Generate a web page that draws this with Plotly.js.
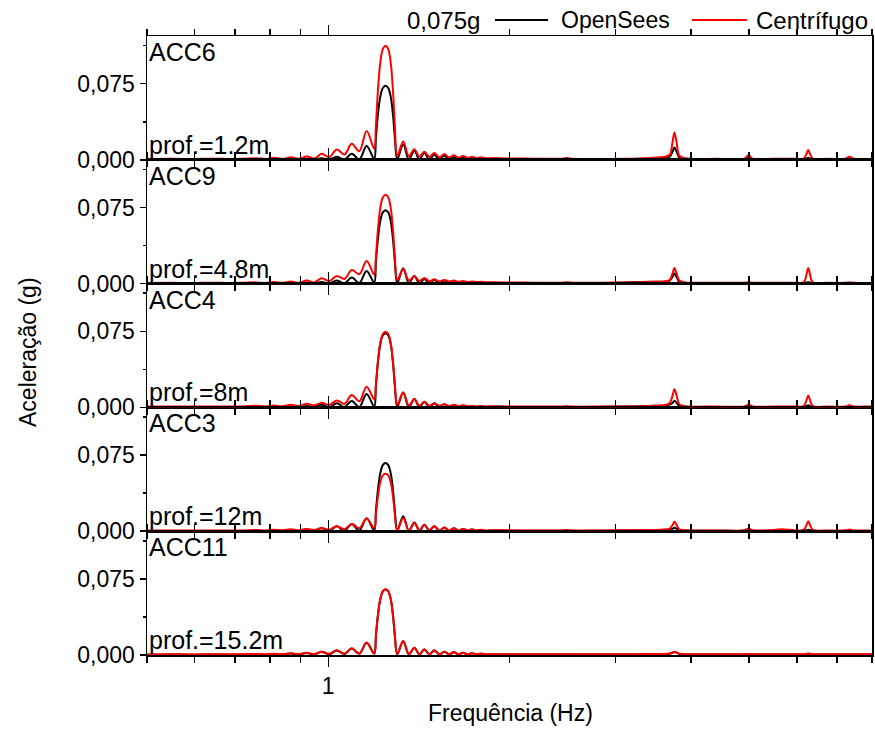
<!DOCTYPE html>
<html><head><meta charset="utf-8">
<script src="https://cdn.plot.ly/plotly-3.0.1.min.js"></script>
<style>html,body{margin:0;padding:0;background:#fff}#chart{width:875px;height:730px}</style>
</head><body><div id="chart"></div>
<script>
// Frequency (Hz), shared by all series
const freq = [0.50, 0.55, 0.60, 0.64, 0.68, 0.72, 0.76, 0.786, 0.812,
 0.840, 0.866, 0.893, 0.921, 0.948, 0.975, 1.004, 1.033, 1.064, 1.094, 1.126, 1.158, 1.192,
 1.200, 1.209, 1.220, 1.232, 1.245, 1.258, 1.270, 1.281, 1.290, 1.302,
 1.332, 1.361, 1.390, 1.417, 1.444, 1.472, 1.500, 1.530, 1.559, 1.588, 1.617, 1.646, 1.675, 1.704, 1.733, 1.763, 1.793, 1.823,
 1.88, 1.97, 2.12, 2.32, 2.44, 2.49, 2.54, 2.82, 3.12, 3.42,
 3.62, 3.69, 3.73, 3.758, 3.79, 3.83, 3.92,
 4.40, 4.91, 4.99, 5.07, 5.50, 5.67, 5.95, 6.16, 6.23, 6.27, 6.31, 6.38, 6.75, 7.22, 7.34, 7.46, 7.75, 8.00];

// ACC6 (prof.=1.2m)
const acc6_opensees = [0.0002, 0.0002, 0.0002, 0.0002, 0.0002, 0.0002, 0.0003, 0.0002, 0.0004,
 0.0002, 0.0005, 0.0002, 0.0008, 0.0002, 0.0016, 0.0003, 0.0030, 0.0004, 0.0059, 0.0005, 0.0135, 0.0010,
 0.0220, 0.0440, 0.0620, 0.0708, 0.0730, 0.0708, 0.0620, 0.0440, 0.0220, 0.0005,
 0.0150, 0.0004, 0.0090, 0.0003, 0.0066, 0.0003, 0.0050, 0.0003, 0.0040, 0.0003, 0.0030, 0.0003, 0.0024, 0.0003, 0.0018, 0.0003, 0.0014, 0.0003,
 0.0008, 0.0005, 0.0004, 0.0004, 0.0004, 0.0015, 0.0004, 0.0004, 0.0006, 0.0012,
 0.0020, 0.0030, 0.0080, 0.0120, 0.0080, 0.0020, 0.0006,
 0.0004, 0.0004, 0.0020, 0.0004, 0.0003, 0.0003, 0.0003, 0.0004, 0.0012, 0.0020, 0.0012, 0.0004, 0.0003, 0.0003, 0.0006, 0.0003, 0.0003, 0.0003];
const acc6_centrifugo = [0.0008, 0.0010, 0.0008, 0.0011, 0.0009, 0.0010, 0.0016, 0.0008, 0.0020,
 0.0009, 0.0024, 0.0010, 0.0033, 0.0013, 0.0059, 0.0026, 0.0102, 0.0053, 0.0158, 0.0085, 0.0283, 0.0110,
 0.0340, 0.0675, 0.0955, 0.1090, 0.1125, 0.1090, 0.0955, 0.0675, 0.0340, 0.0040,
 0.0180, 0.0035, 0.0105, 0.0030, 0.0079, 0.0028, 0.0066, 0.0025, 0.0056, 0.0022, 0.0045, 0.0020, 0.0038, 0.0018, 0.0030, 0.0016, 0.0025, 0.0015,
 0.0018, 0.0014, 0.0012, 0.0010, 0.0010, 0.0015, 0.0010, 0.0009, 0.0010, 0.0018,
 0.0030, 0.0050, 0.0170, 0.0270, 0.0170, 0.0040, 0.0015,
 0.0010, 0.0012, 0.0046, 0.0012, 0.0010, 0.0010, 0.0010, 0.0012, 0.0060, 0.0096, 0.0060, 0.0012, 0.0010, 0.0010, 0.0030, 0.0010, 0.0008, 0.0008];

// ACC9 (prof.=4.8m)
const acc9_opensees = [0.0002, 0.0002, 0.0002, 0.0002, 0.0002, 0.0002, 0.0003, 0.0002, 0.0004,
 0.0002, 0.0005, 0.0002, 0.0009, 0.0002, 0.0016, 0.0003, 0.0030, 0.0004, 0.0059, 0.0005, 0.0125, 0.0010,
 0.0217, 0.0434, 0.0615, 0.0702, 0.0724, 0.0702, 0.0615, 0.0434, 0.0217, 0.0005,
 0.0151, 0.0004, 0.0076, 0.0003, 0.0046, 0.0003, 0.0036, 0.0003, 0.0030, 0.0003, 0.0024, 0.0003, 0.0019, 0.0003, 0.0015, 0.0003, 0.0012, 0.0003,
 0.0008, 0.0005, 0.0004, 0.0004, 0.0004, 0.0010, 0.0004, 0.0006, 0.0012, 0.0018,
 0.0020, 0.0030, 0.0065, 0.0099, 0.0065, 0.0015, 0.0006,
 0.0004, 0.0004, 0.0008, 0.0004, 0.0003, 0.0003, 0.0003, 0.0004, 0.0010, 0.0015, 0.0010, 0.0004, 0.0003, 0.0003, 0.0005, 0.0003, 0.0003, 0.0003];
const acc9_centrifugo = [0.0006, 0.0008, 0.0006, 0.0009, 0.0007, 0.0008, 0.0012, 0.0006, 0.0016,
 0.0008, 0.0020, 0.0009, 0.0030, 0.0012, 0.0053, 0.0026, 0.0076, 0.0046, 0.0135, 0.0092, 0.0223, 0.0090,
 0.0263, 0.0525, 0.0744, 0.0849, 0.0875, 0.0849, 0.0744, 0.0525, 0.0263, 0.0035,
 0.0145, 0.0030, 0.0072, 0.0026, 0.0055, 0.0024, 0.0042, 0.0022, 0.0036, 0.0020, 0.0030, 0.0018, 0.0025, 0.0016, 0.0021, 0.0015, 0.0018, 0.0014,
 0.0014, 0.0012, 0.0010, 0.0009, 0.0009, 0.0011, 0.0009, 0.0008, 0.0010, 0.0016,
 0.0022, 0.0035, 0.0098, 0.0154, 0.0098, 0.0030, 0.0012,
 0.0009, 0.0009, 0.0012, 0.0009, 0.0008, 0.0008, 0.0009, 0.0012, 0.0095, 0.0154, 0.0095, 0.0012, 0.0008, 0.0008, 0.0012, 0.0008, 0.0007, 0.0007];

// ACC4 (prof.=8m)
const acc4_opensees = [0.0002, 0.0002, 0.0002, 0.0002, 0.0002, 0.0002, 0.0003, 0.0002, 0.0004,
 0.0002, 0.0006, 0.0002, 0.0015, 0.0003, 0.0025, 0.0003, 0.0040, 0.0004, 0.0063, 0.0005, 0.0132, 0.0010,
 0.0219, 0.0438, 0.0620, 0.0708, 0.0730, 0.0708, 0.0620, 0.0438, 0.0219, 0.0005,
 0.0148, 0.0004, 0.0082, 0.0003, 0.0056, 0.0003, 0.0040, 0.0003, 0.0030, 0.0003, 0.0024, 0.0003, 0.0019, 0.0003, 0.0014, 0.0003, 0.0011, 0.0003,
 0.0007, 0.0005, 0.0004, 0.0004, 0.0004, 0.0010, 0.0004, 0.0005, 0.0008, 0.0014,
 0.0020, 0.0028, 0.0044, 0.0066, 0.0044, 0.0015, 0.0006,
 0.0004, 0.0004, 0.0010, 0.0004, 0.0003, 0.0003, 0.0003, 0.0004, 0.0013, 0.0020, 0.0013, 0.0004, 0.0003, 0.0003, 0.0005, 0.0003, 0.0003, 0.0003];
const acc4_centrifugo = [0.0008, 0.0010, 0.0008, 0.0010, 0.0009, 0.0010, 0.0016, 0.0010, 0.0018,
 0.0012, 0.0025, 0.0015, 0.0036, 0.0020, 0.0046, 0.0025, 0.0069, 0.0035, 0.0122, 0.0060, 0.0204, 0.0080,
 0.0224, 0.0448, 0.0634, 0.0724, 0.0746, 0.0724, 0.0634, 0.0448, 0.0224, 0.0025,
 0.0148, 0.0018, 0.0082, 0.0016, 0.0056, 0.0015, 0.0040, 0.0014, 0.0030, 0.0013, 0.0025, 0.0012, 0.0020, 0.0011, 0.0015, 0.0010, 0.0013, 0.0010,
 0.0011, 0.0010, 0.0009, 0.0008, 0.0008, 0.0010, 0.0008, 0.0008, 0.0009, 0.0015,
 0.0025, 0.0040, 0.0115, 0.0180, 0.0115, 0.0030, 0.0012,
 0.0009, 0.0010, 0.0026, 0.0010, 0.0008, 0.0008, 0.0009, 0.0012, 0.0075, 0.0118, 0.0075, 0.0012, 0.0008, 0.0009, 0.0020, 0.0009, 0.0008, 0.0008];

// ACC3 (prof.=12m)
const acc3_opensees = [0.0002, 0.0002, 0.0002, 0.0002, 0.0002, 0.0002, 0.0003, 0.0002, 0.0004,
 0.0002, 0.0006, 0.0002, 0.0018, 0.0003, 0.0030, 0.0003, 0.0050, 0.0004, 0.0072, 0.0005, 0.0128, 0.0008,
 0.0201, 0.0403, 0.0570, 0.0651, 0.0671, 0.0651, 0.0570, 0.0403, 0.0201, 0.0005,
 0.0148, 0.0004, 0.0085, 0.0003, 0.0063, 0.0003, 0.0050, 0.0003, 0.0036, 0.0003, 0.0030, 0.0003, 0.0022, 0.0003, 0.0017, 0.0003, 0.0013, 0.0003,
 0.0007, 0.0005, 0.0004, 0.0004, 0.0004, 0.0008, 0.0004, 0.0004, 0.0006, 0.0010,
 0.0014, 0.0018, 0.0024, 0.0033, 0.0024, 0.0010, 0.0005,
 0.0004, 0.0004, 0.0010, 0.0004, 0.0003, 0.0005, 0.0003, 0.0004, 0.0010, 0.0015, 0.0010, 0.0004, 0.0003, 0.0003, 0.0005, 0.0003, 0.0003, 0.0003];
const acc3_centrifugo = [0.0006, 0.0008, 0.0006, 0.0008, 0.0007, 0.0008, 0.0012, 0.0007, 0.0015,
 0.0009, 0.0018, 0.0010, 0.0022, 0.0012, 0.0032, 0.0015, 0.0050, 0.0022, 0.0072, 0.0030, 0.0125, 0.0030,
 0.0170, 0.0340, 0.0482, 0.0550, 0.0567, 0.0550, 0.0482, 0.0340, 0.0170, 0.0010,
 0.0130, 0.0010, 0.0082, 0.0010, 0.0063, 0.0010, 0.0050, 0.0009, 0.0036, 0.0009, 0.0030, 0.0008, 0.0022, 0.0008, 0.0018, 0.0008, 0.0014, 0.0008,
 0.0010, 0.0009, 0.0008, 0.0008, 0.0008, 0.0012, 0.0008, 0.0008, 0.0009, 0.0012,
 0.0016, 0.0025, 0.0060, 0.0092, 0.0060, 0.0018, 0.0010,
 0.0008, 0.0010, 0.0026, 0.0010, 0.0012, 0.0020, 0.0010, 0.0012, 0.0062, 0.0099, 0.0062, 0.0012, 0.0008, 0.0009, 0.0016, 0.0008, 0.0008, 0.0008];

// ACC11 (prof.=15.2m)
const acc11_opensees = [0.0003, 0.0004, 0.0003, 0.0004, 0.0003, 0.0004, 0.0006, 0.0003, 0.0008,
 0.0004, 0.0014, 0.0005, 0.0020, 0.0006, 0.0030, 0.0008, 0.0044, 0.0010, 0.0064, 0.0012, 0.0120, 0.0012,
 0.0192, 0.0387, 0.0548, 0.0626, 0.0645, 0.0626, 0.0548, 0.0387, 0.0192, 0.0008,
 0.0136, 0.0006, 0.0071, 0.0006, 0.0055, 0.0006, 0.0045, 0.0006, 0.0032, 0.0006, 0.0027, 0.0006, 0.0021, 0.0005, 0.0017, 0.0005, 0.0013, 0.0005,
 0.0006, 0.0005, 0.0005, 0.0005, 0.0005, 0.0007, 0.0005, 0.0005, 0.0005, 0.0007,
 0.0008, 0.0012, 0.0022, 0.0030, 0.0022, 0.0010, 0.0006,
 0.0005, 0.0005, 0.0008, 0.0005, 0.0005, 0.0005, 0.0005, 0.0006, 0.0009, 0.0012, 0.0009, 0.0006, 0.0005, 0.0005, 0.0006, 0.0005, 0.0005, 0.0005];
const acc11_centrifugo = [0.0006, 0.0008, 0.0006, 0.0008, 0.0007, 0.0008, 0.0011, 0.0007, 0.0013,
 0.0008, 0.0018, 0.0009, 0.0023, 0.0010, 0.0033, 0.0012, 0.0046, 0.0014, 0.0066, 0.0015, 0.0122, 0.0015,
 0.0194, 0.0389, 0.0551, 0.0629, 0.0648, 0.0629, 0.0551, 0.0389, 0.0194, 0.0010,
 0.0138, 0.0008, 0.0072, 0.0008, 0.0056, 0.0008, 0.0046, 0.0008, 0.0033, 0.0008, 0.0028, 0.0008, 0.0022, 0.0007, 0.0018, 0.0007, 0.0014, 0.0007,
 0.0009, 0.0008, 0.0007, 0.0007, 0.0007, 0.0009, 0.0007, 0.0007, 0.0007, 0.0009,
 0.0010, 0.0015, 0.0025, 0.0033, 0.0025, 0.0012, 0.0008,
 0.0007, 0.0007, 0.0010, 0.0007, 0.0007, 0.0007, 0.0007, 0.0008, 0.0012, 0.0015, 0.0012, 0.0008, 0.0007, 0.0007, 0.0008, 0.0007, 0.0007, 0.0007];

const panelLabels = ['ACC6', 'ACC9', 'ACC4', 'ACC3', 'ACC11'];
const depthLabels = ['prof.=1.2m', 'prof.=4.8m', 'prof.=8m', 'prof.=12m', 'prof.=15.2m'];
const openseesSeries = [acc6_opensees, acc9_opensees, acc4_opensees, acc3_opensees, acc11_opensees];
const centrifugoSeries = [acc6_centrifugo, acc9_centrifugo, acc4_centrifugo, acc3_centrifugo, acc11_centrifugo];
const seriesNames = ['OpenSees', 'Centrífugo'];
const legendTitle = '0,075g';
const yTickVals = [0, 0.075];
const xMajorTicks = [1];
const xMinorTicks = [0.5, 0.6, 0.7, 0.8, 0.9, 2, 3, 4, 5, 6, 7, 8];

const FONT = 'Liberation Sans, Arial, sans-serif';
const N = panelLabels.length;
const traces = [];
const layout = {
  width: 875, height: 730,
  margin: {l: 147, r: 3, t: 36, b: 75},
  paper_bgcolor: '#fff', plot_bgcolor: '#fff',
  separators: ', ',
  showlegend: false,
  font: {family: FONT, size: 24, color: '#000'},
  annotations: [], shapes: []
};

for (let i = 0; i < N; i++) {
  const k = i + 1;
  const sfx = k === 1 ? '' : String(k);
  traces.push({x: freq, y: openseesSeries[i], type: 'scatter', mode: 'lines', name: seriesNames[0],
    xaxis: 'x' + sfx, yaxis: 'y' + sfx, line: {color: '#000000', width: 2, shape: 'spline', smoothing: 1}});
  traces.push({x: freq, y: centrifugoSeries[i], type: 'scatter', mode: 'lines', name: seriesNames[1],
    xaxis: 'x' + sfx, yaxis: 'y' + sfx, line: {color: '#ff0000', width: 2, shape: 'spline', smoothing: 1}});
  const top = 1 - i / N, bot = 1 - (i + 1) / N;
  layout['xaxis' + sfx] = {
    type: 'log', range: [Math.log10(0.5), Math.log10(8)], anchor: 'y' + sfx, domain: [0, 1],
    showline: true, linecolor: '#000', linewidth: 1.5, mirror: 'ticks',
    ticks: 'outside', ticklen: 10, tickwidth: 1.5, tickcolor: '#000',
    tickmode: 'array', tickvals: xMajorTicks, ticktext: xMajorTicks.map(String),
    showticklabels: k === N, showgrid: false, zeroline: false, layer: 'below traces',
    tickfont: {family: FONT, size: 23, color: '#000'},
    minor: {tickmode: 'array', tickvals: xMinorTicks, ticks: 'outside', ticklen: 6, tickwidth: 1.5, tickcolor: '#000', showgrid: false}
  };
  layout['yaxis' + sfx] = {
    domain: [bot, top], range: [0, 0.122], anchor: 'x' + sfx,
    showline: true, linecolor: '#000', linewidth: 1.5, mirror: true,
    ticks: 'outside', ticklen: 6, tickwidth: 1.5, tickcolor: '#000',
    tickmode: 'array', tickvals: yTickVals, tickformat: '.3f',
    showgrid: false, zeroline: false, layer: 'below traces',
    tickfont: {family: FONT, size: 23, color: '#000'},
    minor: {tickmode: 'linear', tick0: 0, dtick: 0.0375, ticks: 'outside', ticklen: 3, tickwidth: 1.5, tickcolor: '#000', showgrid: false}
  };
  layout.annotations.push({xref: 'paper', yref: 'paper', x: 0, y: top, xanchor: 'left', yanchor: 'top',
    text: panelLabels[i], showarrow: false, xshift: 0, yshift: 0, font: {family: FONT, size: 25, color: '#000'}});
  layout.annotations.push({xref: 'paper', yref: 'paper', x: 0, y: bot, xanchor: 'left', yanchor: 'bottom',
    text: depthLabels[i], showarrow: false, xshift: 0, yshift: -1, font: {family: FONT, size: 25, color: '#000'}});
}

// axis titles
const px = v => (v - 147) / 725;
const py = v => (655 - v) / 619;
layout.annotations.push({xref: 'paper', yref: 'paper', x: px(28), y: py(352), xanchor: 'center', yanchor: 'middle',
  text: 'Aceleração (g)', textangle: -90, showarrow: false, font: {family: FONT, size: 23, color: '#000'}});
layout.annotations.push({xref: 'paper', yref: 'paper', x: px(510), y: py(727), xanchor: 'center', yanchor: 'bottom',
  text: 'Frequência (Hz)', showarrow: false, borderpad: 0, font: {family: FONT, size: 23, color: '#000'}});

// legend (drawn above plot)
layout.annotations.push({xref: 'paper', yref: 'paper', x: px(482), y: py(20), xanchor: 'right', yanchor: 'middle',
  text: legendTitle, showarrow: false, font: {family: FONT, size: 24, color: '#000'}});
layout.shapes.push({type: 'line', xref: 'paper', yref: 'paper', x0: px(495), x1: px(548), y0: py(20), y1: py(20), line: {color: '#000', width: 2}});
layout.annotations.push({xref: 'paper', yref: 'paper', x: px(559), y: py(20), xanchor: 'left', yanchor: 'middle',
  text: seriesNames[0], showarrow: false, font: {family: FONT, size: 23, color: '#000'}});
layout.shapes.push({type: 'line', xref: 'paper', yref: 'paper', x0: px(692), x1: px(747), y0: py(20), y1: py(20), line: {color: '#ff0000', width: 2}});
layout.annotations.push({xref: 'paper', yref: 'paper', x: px(754), y: py(20), xanchor: 'left', yanchor: 'middle',
  text: seriesNames[1], showarrow: false, font: {family: FONT, size: 24, color: '#000'}});

Plotly.newPlot('chart', traces, layout, {displayModeBar: false, staticPlot: true});
</script></body></html>
